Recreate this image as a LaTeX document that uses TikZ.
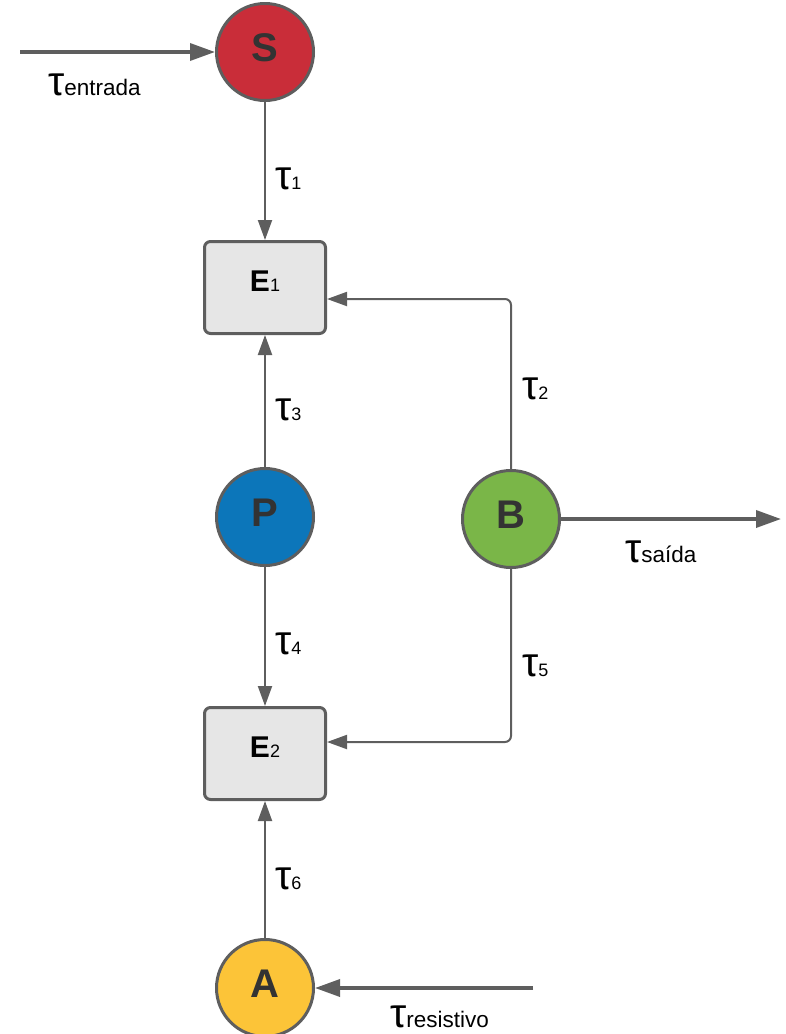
\documentclass[tikz,border=0pt]{standalone}
\usepackage{fontspec}
\setmainfont{Liberation Sans}
\usetikzlibrary{arrows.meta}
\definecolor{edgegray}{HTML}{5E5E5E}
\definecolor{redS}{HTML}{C92D39}
\definecolor{blueP}{HTML}{0C76BA}
\definecolor{greenB}{HTML}{7AB648}
\definecolor{yellowA}{HTML}{FCC438}
\definecolor{boxfill}{HTML}{E6E6E6}
\definecolor{txtgray}{HTML}{333333}
\newcommand{\taufont}{\fontsize{41}{41}\selectfont}
\newcommand{\subword}{\fontsize{22.5}{22.5}\selectfont}
\newcommand{\subdigit}{\fontsize{18}{18}\selectfont}
\begin{document}
\begin{tikzpicture}[x=1pt,y=-1pt,
  statecirc/.style={circle, draw=edgegray, line width=3pt, minimum size=97pt, inner sep=0pt,
    font=\fontsize{40}{40}\selectfont\bfseries, text=txtgray, text depth=8pt},
  engbox/.style={rectangle, rounded corners=6pt, draw=edgegray, line width=3pt, fill=boxfill,
    minimum width=121pt, minimum height=92pt, inner sep=0pt, text=black, text depth=12pt},
  conn/.style={draw=edgegray, line width=2pt, -{Triangle[length=20pt,width=14pt]}},
  thickconn/.style={draw=edgegray, line width=3.5pt, -{Triangle[length=25pt,width=17pt]}},
  lbl/.style={anchor=base west, inner sep=0pt, text=black}]
\useasboundingbox (0,0) rectangle (785,1034);

% nodes
\node[statecirc, fill=redS] (S) at (265,52) {S};
\node[statecirc, fill=blueP] (P) at (265,517) {P};
\node[statecirc, fill=greenB] (B) at (511,519) {B};
\node[statecirc, fill=yellowA] (A) at (265,988) {A};
\node[engbox] (E1) at (265,287.5) {\fontsize{30}{30}\selectfont\bfseries E\subdigit\mdseries 1};
\node[engbox] (E2) at (265,753.5) {\fontsize{30}{30}\selectfont\bfseries E\subdigit\mdseries 2};

\coordinate (inS) at (20,52);
\coordinate (outB) at (781,519);
\coordinate (inA) at (533,988);

% connectors
\draw[thickconn] (inS) -- (S);
\draw[conn] (S) -- (E1);
\draw[conn] (P) -- (E1);
\draw[conn] (P) -- (E2);
\draw[conn] (A) -- (E2);
\draw[conn, rounded corners=6pt] (B.north) |- ([yshift=-11.5pt]E1.east);
\draw[conn, rounded corners=6pt] (B.south) |- ([yshift=11.5pt]E2.east);
\draw[thickconn] (B) -- (outB);
\draw[thickconn] (inA) -- (A);

% labels
\node[lbl] (lin) at (48,95) {\taufont τ\subword entrada};
\node[lbl] (l1) at (275,189) {\taufont τ\subdigit 1};
\node[lbl] (l2) at (522,399) {\taufont τ\subdigit 2};
\node[lbl] (l3) at (275,420) {\taufont τ\subdigit 3};
\node[lbl] (l4) at (275,654) {\taufont τ\subdigit 4};
\node[lbl] (l5) at (522,676) {\taufont τ\subdigit 5};
\node[lbl] (l6) at (275,889) {\taufont τ\subdigit 6};
\node[lbl] (lout) at (625,562) {\taufont τ\subword saída};
\node[lbl] (lres) at (390,1027) {\taufont τ\subword resistivo};
\end{tikzpicture}
\end{document}
